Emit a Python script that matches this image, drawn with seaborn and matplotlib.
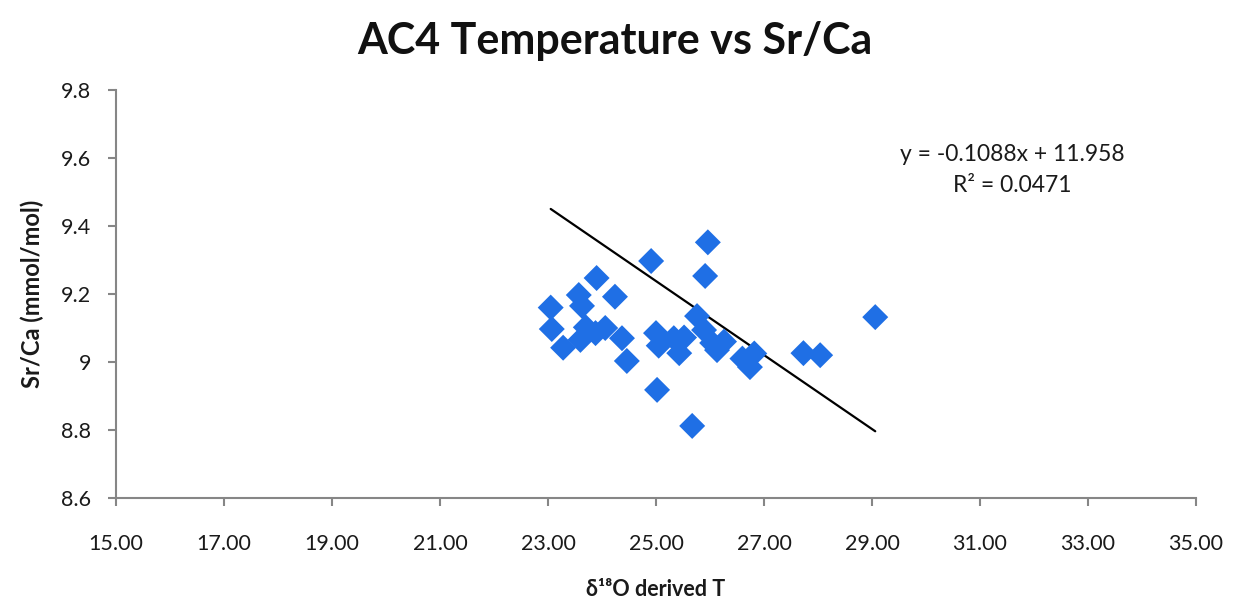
import matplotlib
matplotlib.use("Agg")
import matplotlib.pyplot as plt
import seaborn as sns
import pandas as pd
import numpy as np

# Data
temperature = [23.05, 23.07, 23.28, 23.57, 23.63, 23.60, 23.70, 23.88, 23.90, 24.06,
               24.24, 24.37, 24.46, 24.91, 25.00, 25.05, 25.02, 25.33, 25.43, 25.52,
               25.67, 25.76, 25.89, 25.91, 25.96, 26.04, 26.13, 26.26, 26.60, 26.74,
               26.82, 27.73, 28.04, 29.06]
sr_ca = [9.160, 9.097, 9.042, 9.197, 9.165, 9.065, 9.102, 9.085, 9.247, 9.100,
         9.192, 9.070, 9.003, 9.297, 9.085, 9.048, 8.918, 9.070, 9.026, 9.072,
         8.812, 9.135, 9.094, 9.253, 9.352, 9.056, 9.035, 9.060, 9.010, 8.985,
         9.025, 9.026, 9.020, 9.132]
slope = -0.1088
intercept = 11.958
r_squared = 0.0471
x_ticks = [15, 17, 19, 21, 23, 25, 27, 29, 31, 33, 35]
y_ticks = [8.6, 8.8, 9.0, 9.2, 9.4, 9.6, 9.8]
y_tick_labels = ["8.6", "8.8", "9", "9.2", "9.4", "9.6", "9.8"]

df = pd.DataFrame({"T": temperature, "SrCa": sr_ca})

sns.set_theme(style="white")
plt.rcParams["font.family"] = ["Lato", "DejaVu Sans"]

fig = plt.figure(figsize=(12.44, 6.04), dpi=100)
ax = fig.add_axes([116 / 1244, 1 - 498 / 604, (1196 - 116) / 1244, (498 - 90) / 604])

sns.scatterplot(data=df, x="T", y="SrCa", ax=ax, marker="D", s=175,
                color="#1f6fe5", edgecolor="none", zorder=3)

xl = np.array([min(temperature), max(temperature)])
sns.lineplot(x=xl, y=slope * xl + intercept, ax=ax, color="black", linewidth=1.6, zorder=2)

ax.set_xlim(15, 35)
ax.set_ylim(8.6, 9.8)
ax.set_xticks(x_ticks)
ax.set_xticklabels([f"{t:.2f}" for t in x_ticks])
ax.set_yticks(y_ticks)
ax.set_yticklabels(y_tick_labels)

for side in ["top", "right"]:
    ax.spines[side].set_visible(False)
for side in ["left", "bottom"]:
    ax.spines[side].set_color("#868686")
    ax.spines[side].set_linewidth(1.5)

ax.tick_params(axis="both", which="major", direction="out", length=6, width=1.5,
               color="#868686", labelsize=15.5, labelcolor="#1a1a1a")
ax.tick_params(axis="x", pad=20, bottom=True)
ax.tick_params(axis="y", pad=12, left=True)

ax.set_xlabel("δ¹⁸O derived T", fontsize=15.5, fontweight="bold", labelpad=18, color="#1a1a1a")
ax.set_ylabel("Sr/Ca (mmol/mol)", fontsize=17, fontweight="bold", labelpad=12, color="#1a1a1a")

fig.suptitle("AC4 Temperature vs Sr/Ca", x=0.494, y=0.965, fontsize=31, fontweight="bold",
             color="#111111")

ax.text(31.6, 9.61, f"y = {slope}x + {intercept}", ha="center", va="center",
        fontsize=16.5, color="#1a1a1a")
ax.text(31.6, 9.52, f"R² = {r_squared}", ha="center", va="center",
        fontsize=16.5, color="#1a1a1a")

fig.savefig("out.png", dpi=100, facecolor="white")
